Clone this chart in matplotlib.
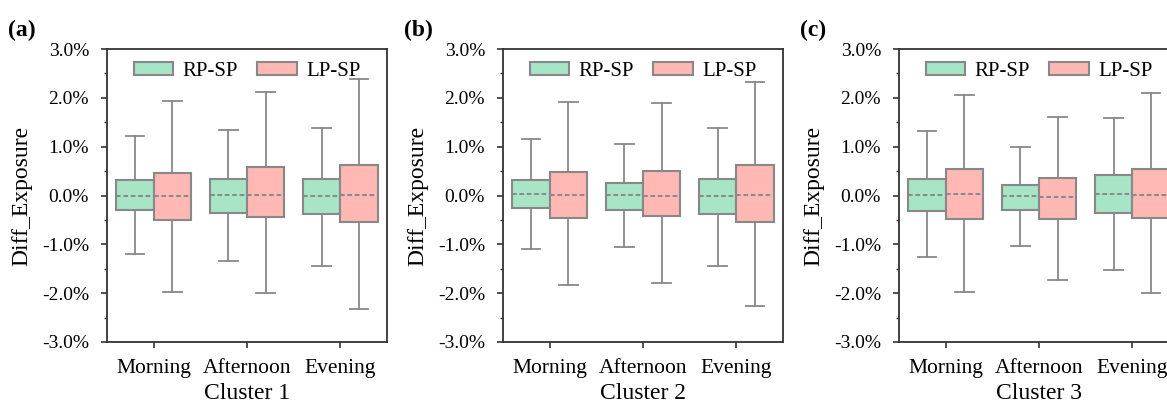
import matplotlib
matplotlib.use("Agg")
import matplotlib.pyplot as plt
from matplotlib.patches import Patch
from matplotlib.ticker import MultipleLocator, FuncFormatter

plt.rcParams['font.family'] = ['Liberation Serif', 'DejaVu Serif']

periods = ["Morning", "Afternoon", "Evening"]
clusters = ["Cluster 1", "Cluster 2", "Cluster 3"]
panel_tags = ["(a)", "(b)", "(c)"]
series = ["RP-SP", "LP-SP"]

# values in percent: [cluster][period] -> (whislo, q1, med, q3, whishi)
rp_sp = [
    [(-1.19, -0.29, 0.00, 0.31, 1.22), (-1.35, -0.35, 0.01, 0.33, 1.34), (-1.44, -0.38, -0.02, 0.33, 1.39)],
    [(-1.09, -0.25, 0.03, 0.31, 1.16), (-1.06, -0.29, 0.01, 0.26, 1.06), (-1.44, -0.37, -0.01, 0.33, 1.39)],
    [(-1.26, -0.31, 0.01, 0.33, 1.32), (-1.03, -0.29, -0.02, 0.22, 0.99), (-1.53, -0.36, 0.03, 0.42, 1.59)],
]
lp_sp = [
    [(-1.98, -0.51, 0.00, 0.47, 1.94), (-1.99, -0.45, 0.02, 0.59, 2.11), (-2.33, -0.55, 0.02, 0.62, 2.39)],
    [(-1.84, -0.46, 0.02, 0.49, 1.91), (-1.80, -0.42, -0.02, 0.51, 1.89), (-2.26, -0.54, 0.02, 0.62, 2.33)],
    [(-1.98, -0.48, 0.03, 0.55, 2.06), (-1.74, -0.48, -0.03, 0.35, 1.61), (-2.00, -0.47, 0.02, 0.55, 2.09)],
]

colors = ["#a8e4c6", "#ffb8b3"]
edge = "#888888"

W, H = 1167, 405
fig = plt.figure(figsize=(W / 100, H / 100), dpi=100)

lefts = [107, 503, 899]
ax_w, ax_top, ax_bot = 280, 49, 342

def to_stats(vals):
    lo, q1, med, q3, hi = vals
    return dict(whislo=lo, q1=q1, med=med, q3=q3, whishi=hi, fliers=[])

for ci in range(3):
    ax = fig.add_axes([lefts[ci] / W, 1 - ax_bot / H, ax_w / W, (ax_bot - ax_top) / H])
    for si, data in enumerate([rp_sp, lp_sp]):
        offset = -0.2 if si == 0 else 0.2
        stats = [to_stats(v) for v in data[ci]]
        ax.bxp(stats, positions=[i + offset for i in range(3)], widths=0.4,
               patch_artist=True, showfliers=False,
               boxprops=dict(facecolor=colors[si], edgecolor=edge, linewidth=1.5),
               whiskerprops=dict(color=edge, linewidth=1.3),
               capprops=dict(color=edge, linewidth=1.3),
               medianprops=dict(color=edge, linewidth=1.4, linestyle=(0, (2.4, 1.4))),
               manage_ticks=False)
    ax.set_xlim(-0.5, 2.5)
    ax.set_ylim(-3.0, 3.0)
    ax.set_xticks(range(3))
    ax.set_xticklabels(periods, fontsize=15.5)
    ax.yaxis.set_major_locator(MultipleLocator(1.0))
    ax.yaxis.set_minor_locator(MultipleLocator(0.5))
    ax.yaxis.set_major_formatter(FuncFormatter(lambda v, p: f"{v:.1f}%"))
    ax.tick_params(axis='y', which='major', length=4, width=1.2, pad=9, labelsize=14, color="#333333")
    ax.tick_params(axis='y', which='minor', length=2.5, width=1.0, color="#333333")
    ax.tick_params(axis='x', which='major', length=4, width=1.2, pad=8, color="#333333")
    for s in ax.spines.values():
        s.set_linewidth(1.3)
        s.set_color("#333333")
    ax.set_ylabel("Diff_Exposure", fontsize=17, labelpad=7)
    ax.set_xlabel(clusters[ci], fontsize=17, labelpad=4)
    handles = [Patch(facecolor=colors[k], edgecolor=edge, linewidth=1.5, label=series[k]) for k in range(2)]
    ax.legend(handles=handles, loc="upper center", ncol=2, frameon=False, fontsize=15,
              handlelength=1.9, handleheight=0.6, columnspacing=0.9, handletextpad=0.45,
              borderaxespad=0.2, bbox_to_anchor=(0.5, 1.0))
    fig.text((lefts[ci] - 99) / W, 1 - 30 / H, panel_tags[ci], fontsize=17, fontweight="bold",
             va="center", ha="left")

fig.savefig("out.png", dpi=100)
